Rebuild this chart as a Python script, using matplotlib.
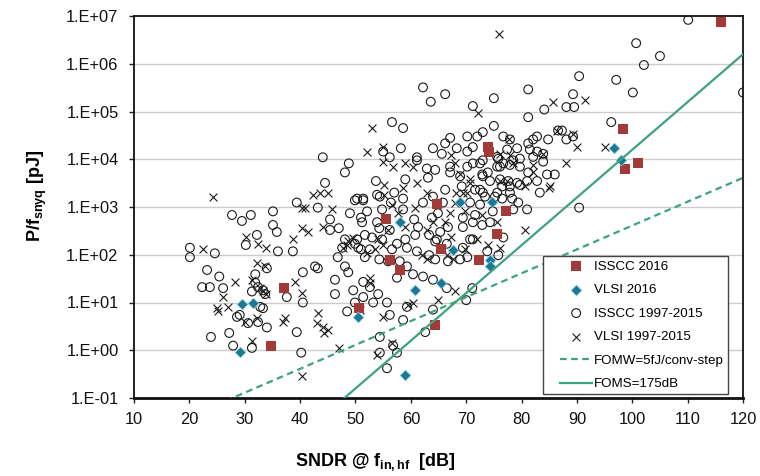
import numpy as np
import matplotlib
matplotlib.use("Agg")
import matplotlib.pyplot as plt
from matplotlib.ticker import FixedLocator, FuncFormatter, NullLocator
from matplotlib.legend_handler import HandlerLine2D, HandlerPathCollection

plt.rcParams['font.family'] = ['Liberation Sans', 'DejaVu Sans']
plt.rcParams['mathtext.fontset'] = 'custom'
plt.rcParams['mathtext.rm'] = 'Liberation Sans'
plt.rcParams['mathtext.bf'] = 'Liberation Sans:bold'
plt.rcParams['mathtext.it'] = 'Liberation Sans:italic'

# ---------------- data ----------------
isscc16_sndr = [116.0, 98.3, 101.0, 98.7, 73.9, 74.1, 77.2, 75.6, 72.3, 65.5,
                64.7, 55.5, 58.0, 56.2, 37.1, 50.6, 34.7, 64.4]
isscc16_pf = [7.4e6, 4.3e4, 8.3e3, 6.3e3, 1.8e4, 1.4e4, 8.3e2, 2.7e2, 77, 1.3e2,
              1.15e3, 5.6e2, 48, 78, 20, 7.6, 1.2, 3.4]

vlsi16_sndr = [96.7, 98.0, 68.9, 74.7, 67.6, 74.3, 74.3, 65.5, 60.8, 58.0,
               29.5, 31.5, 29.1, 59.0, 50.5]
vlsi16_pf = [1.7e4, 9.5e3, 1.25e3, 1.25e3, 1.25e2, 78, 58, 25, 18, 4.9e2,
             9.3, 10.0, 0.9, 0.3, 5.0]

isscc_old_sndr = [
    62.2, 63.6, 66.2, 56.6, 58.6, 44.1, 48.8, 48.1, 44.5, 53.7, 58.2, 64.0, 65.6, 66.2,
    62.9, 64.4, 63.1, 59.0, 56.2, 55.0, 61.1, 61.1, 66.2, 57.0, 54.4, 50.3, 51.4,
    110.1, 100.7, 105.0, 102.1, 90.4, 97.1, 100.1, 81.2, 75.0, 89.3, 88.1, 89.5, 84.1,
    81.2, 71.2, 120.0, 96.2, 73.0, 75.0, 72.0, 70.2, 67.1, 76.7, 79.2, 81.2, 82.8, 84.8,
    82.1, 86.6, 88.1, 86.0, 82.1, 83.9, 77.4, 75.8, 73.0, 71.2, 70.2, 68.3, 81.2, 82.8,
    79.7, 77.6, 76.1, 74.3, 72.9, 72.5, 75.6, 77.9, 67.1, 67.1, 68.9, 83.3, 71.2, 77.9,
    89.3, 81.5, 82.8, 83.9, 75.6, 78.5, 79.7, 76.1, 70.2, 87.3,
    39.4, 43.2, 49.9, 51.4, 53.9, 56.4, 58.6, 62.2, 64.9, 49.0, 52.1, 45.4, 51.0, 51.2,
    54.8, 58.6, 60.6, 61.3, 63.8, 63.3, 53.9, 54.3, 56.2, 47.0, 45.4, 38.7, 48.1, 47.6,
    50.3, 51.7, 53.0, 54.8, 57.5, 59.0, 60.8, 52.6, 51.7, 54.3, 58.0, 48.1, 51.0, 49.9,
    59.3, 61.1, 64.4, 63.3, 42.7, 56.6,
    72.5, 73.9, 75.6, 76.7, 77.9, 79.7, 84.6, 81.0, 79.2, 77.9, 76.5, 73.0, 71.6, 73.0,
    69.2, 64.0, 65.8, 70.7, 72.5, 73.4, 75.2, 76.5, 78.3, 79.4, 78.5, 81.0, 74.8, 71.6,
    69.4, 71.2, 72.9, 74.3, 76.7, 71.2, 69.4, 66.7, 65.3, 64.7, 66.5, 69.4, 70.7, 73.8,
    75.8, 68.9, 70.2, 64.4, 66.7, 90.4, 70.0, 71.1, 66.5,
    27.7, 29.5, 31.1, 35.1, 35.1, 32.2, 35.8, 20.1, 20.1, 30.2, 36.0, 40.5, 43.2, 34.0,
    31.9, 23.2, 25.4, 22.3, 26.1, 31.9, 32.4, 33.3, 33.7, 31.3, 37.6, 40.5, 33.3, 28.6,
    30.6, 32.4, 34.0, 39.4, 23.9, 27.2, 27.9, 31.3, 40.2, 46.3, 48.5, 54.4, 54.4, 56.8,
    57.5, 55.7, 62.6, 64.0, 46.3, 49.6, 51.4, 52.6, 54.1, 55.7, 56.2, 58.6, 59.3, 50.5,
    55.9, 57.5, 59.3, 60.4, 62.2, 64.0, 46.8, 48.7, 53.2, 51.4, 49.9, 24.6, 23.7, 29.1,
    32.8]
isscc_old_pf = [
    3.2e5, 1.6e5, 2.3e5, 6.0e4, 4.5e4, 1.1e4, 8.2e3, 5.3e3, 3.2e3, 3.5e3, 1.7e4, 1.7e4, 1.3e4, 2.15e4,
    6.4e3, 6.0e3, 4.1e3, 3.8e3, 1.1e4, 1.45e4, 1.1e4, 9.5e3, 2.3e3, 2.0e3, 1.65e3, 1.5e3, 1.5e3,
    8.3e6, 2.7e6, 1.45e6, 9.4e5, 5.5e5, 4.6e5, 2.5e5, 2.9e5, 1.9e5, 2.3e5, 1.24e5, 1.24e5, 1.1e5,
    7.6e4, 1.3e5, 2.5e5, 6.0e4, 3.7e4, 5.0e4, 3.0e4, 3.0e4, 2.8e4, 3.0e4, 1.7e4, 2.15e4, 3.0e4, 2.6e4,
    2.6e4, 4.0e4, 2.6e4, 4.8e3, 1.12e4, 8.9e3, 1.6e4, 1.03e4, 9.5e3, 8.2e3, 1.45e4, 1.7e4, 5.3e3, 3.5e3,
    2.9e3, 3.5e3, 3.8e3, 3.5e3, 4.8e3, 2.3e3, 2.0e3, 2.0e3, 7.0e3, 5.3e3, 4.4e3, 2.0e3, 1.8e4, 2.6e4,
    3.0e4, 1.6e4, 1.45e4, 1.3e4, 1.12e4, 9.5e3, 1.03e4, 7.0e3, 7.0e3, 4.0e4,
    1.24e3, 9.7e2, 1.38e3, 1.38e3, 1.8e3, 1.24e3, 1.5e3, 1.24e3, 7.4e2, 7.4e2, 8.1e2, 5.5e2, 6.0e2, 4.8e2,
    8.9e2, 8.9e2, 5.5e2, 3.8e2, 6.0e2, 2.6e2, 4.8e2, 3.6e2, 3.3e2, 3.6e2, 3.3e2, 1.18e2, 2.1e2, 1.4e2,
    2.1e2, 2.6e2, 2.3e2, 2.1e2, 1.7e2, 2.1e2, 2.6e2, 1.3e2, 89, 80, 73, 57, 1.3e2, 1.7e2,
    1.4e2, 1.18e2, 1.9e2, 98, 57, 1.3e2,
    8.2e3, 5.3e3, 7.0e3, 8.2e3, 7.6e3, 7.0e3, 4.8e3, 3.5e3, 3.2e3, 2.7e3, 2.7e3, 4.4e3, 2.3e3, 2.0e3,
    2.7e3, 1.65e3, 1.24e3, 1.24e3, 1.12e3, 1.65e3, 1.65e3, 1.5e3, 1.5e3, 1.24e3, 8.9e2, 8.9e2, 8.1e2, 6.8e2,
    6.0e2, 4.8e2, 4.2e2, 4.8e2, 2.3e2, 2.1e2, 3.8e2, 3.8e2, 3.0e2, 2.1e2, 1.7e2, 1.4e2, 2.1e2, 1.18e2,
    98, 80, 89, 80, 73, 9.7e2, 11.2, 20, 20,
    6.8e2, 5.1e2, 6.8e2, 8.1e2, 4.2e2, 2.6e2, 3.0e2, 1.4e2, 89, 1.6e2, 1.18e2, 43, 52, 52,
    39, 48, 35, 21, 20, 26, 21, 18, 15, 17, 13, 10, 7.6, 5.0,
    3.7, 3.9, 3.0, 2.4, 1.9, 2.3, 1.25, 1.12, 0.89, 30, 6.5, 1.9, 0.89, 1.25,
    0.89, 0.42, 2.4, 7.1, 15, 18, 27, 21, 15, 10, 5.5, 4.3, 8.1, 1.4e2,
    73, 33, 57, 39, 35, 30, 89, 43, 10, 13, 10, 1.07e2, 21, 5.5,
    8.1]

vlsi_old_sndr = [
    53.0, 52.1, 55.0, 55.0, 59.0, 60.4, 61.1, 62.9, 42.3, 43.6, 45.0, 24.3, 55.2, 58.6,
    55.2, 75.9, 72.1, 85.7, 91.5, 86.4, 89.3, 90.0, 95.1, 88.0, 85.0, 77.9, 76.1, 78.5,
    83.9, 82.1, 67.3, 70.7, 68.2, 69.4, 77.7,
    40.3, 40.9, 45.8, 44.1, 40.3, 41.4, 38.7, 48.7, 52.1, 47.8, 56.6, 60.8, 57.7, 55.9,
    59.0, 62.9, 54.1, 62.0, 62.9, 56.8,
    68.0, 68.9, 70.7, 76.1, 77.4, 80.6, 82.1, 85.1, 70.2, 68.0, 69.8, 67.1, 66.2, 64.0,
    72.9, 75.6, 80.6, 73.9, 76.1, 72.0, 69.8, 67.6, 67.3, 65.6, 66.5, 68.0,
    22.5, 30.2, 32.4, 33.8, 33.7, 28.2, 32.2, 31.3, 32.8, 33.3, 33.8, 26.1, 25.0, 25.2,
    27.0, 30.1, 32.2, 37.3, 36.9, 43.2, 43.1, 44.1, 45.0, 44.3, 40.3, 39.1, 31.3, 40.3,
    47.0, 53.9, 56.6, 55.0, 52.6, 52.6, 60.4, 59.5, 49.6, 48.5, 53.5, 55.0, 64.9, 50.8]
vlsi_old_pf = [
    4.5e4, 1.45e4, 1.8e4, 8.9e3, 8.2e3, 7.0e3, 3.2e3, 2.0e3, 1.8e3, 2.0e3, 2.0e3, 1.65e3, 2.9e3, 2.5e3,
    1.8e3, 4.2e6, 9.5e4, 1.6e5, 1.7e5, 4.0e4, 3.3e4, 1.8e4, 1.8e4, 8.2e3, 2.5e3, 1.2e4, 1.3e4, 8.2e3,
    1.3e4, 7.6e3, 1.2e4, 3.2e3, 2.0e3, 2.0e3, 2.6e4,
    9.7e2, 9.7e2, 8.9e2, 3.8e2, 3.6e2, 3.0e2, 2.1e2, 1.9e2, 1.07e2, 1.4e2, 1.12e3, 9.7e2, 7.4e2, 3.3e2,
    3.8e2, 3.3e2, 2.1e2, 98, 80, 7.0e3,
    8.2e3, 4.8e3, 3.8e3, 3.5e3, 3.5e3, 2.7e3, 5.3e3, 2.7e3, 2.0e3, 1.24e3, 8.1e2, 7.4e2, 4.8e2, 4.8e2,
    6.8e2, 4.8e2, 3.3e2, 1.6e2, 1.4e2, 2.1e2, 1.3e2, 80, 2.3e2, 1.3e2, 98, 17,
    1.3e2, 2.3e2, 1.7e2, 1.4e2, 57, 27, 67, 30, 20, 17, 15, 13, 7.6, 6.5,
    8.1, 3.9, 4.7, 4.7, 3.9, 6.0, 3.7, 3.0, 2.7, 2.3, 16, 27, 1.6, 0.29,
    1.12, 0.8, 1.4, 5.0, 33, 26, 10, 8.9, 2.2e2, 1.6e2, 1.3e2, 1.6e2, 11.2, 7.1]

# figure-of-merit reference lines
FOMW_J = 5e-15        # 5 fJ/conv-step
FOMS_DB = 175.0       # 175 dB
sndr_line = np.linspace(10, 120, 200)
fomw_pj = FOMW_J * 2 ** ((sndr_line - 1.76) / 6.02) * 1e12
foms_pj = 10 ** ((sndr_line - FOMS_DB) / 10) / 2 * 1e12

x_ticks = list(range(10, 121, 10))
y_ticks = [10.0 ** e for e in range(-1, 8)]


# legend handlers that leave extra room on the left of each handle
class _Shift:
    extra = 1.0

    def create_artists(self, legend, orig_handle, xdescent, ydescent, width,
                       height, fontsize, trans):
        ex = self.extra * fontsize
        return super().create_artists(legend, orig_handle, xdescent - ex, ydescent,
                                      width - ex, height, fontsize, trans)


class ShiftLine(_Shift, HandlerLine2D):
    pass


class ShiftScatter(_Shift, HandlerPathCollection):
    pass


# ---------------- plot ----------------
fig = plt.figure(figsize=(7.6, 4.76), dpi=100)
ax = fig.add_axes([134 / 760, 1 - 398 / 476, 609 / 760, 382 / 476])
ax.set_yscale('log')
ax.set_xlim(10, 120)
ax.set_ylim(1e-1, 1e7)

for yv in y_ticks[1:-1]:
    ax.axhline(yv, color='#cccccc', lw=1.0, zorder=0)

sc_old_i = ax.scatter(isscc_old_sndr, isscc_old_pf, marker='o', s=40, facecolors='none',
                      edgecolors='#1a1a1a', linewidths=0.8, zorder=2)
sc_old_v = ax.scatter(vlsi_old_sndr, vlsi_old_pf, marker='x', s=32, c='#1a1a1a',
                      linewidths=0.8, zorder=2)
sc_i16 = ax.scatter(isscc16_sndr, isscc16_pf, marker='s', s=50, c='#a23b37',
                    linewidths=0, zorder=3)
sc_v16 = ax.scatter(vlsi16_sndr, vlsi16_pf, marker='D', s=30, c='#1c7895',
                    edgecolors='#8fd3e0', linewidths=0.5, zorder=3)
l1, = ax.plot(sndr_line, fomw_pj, ls=(0, (3, 2)), color='#3ea37a', lw=1.6, zorder=4)
l2, = ax.plot(sndr_line, foms_pj, ls='-', color='#3ea37a', lw=1.6, zorder=4)

ax.xaxis.set_major_locator(FixedLocator(x_ticks))
ax.yaxis.set_major_locator(FixedLocator(y_ticks))
ax.yaxis.set_minor_locator(NullLocator())
ax.yaxis.set_major_formatter(FuncFormatter(lambda v, p: "1.E%+03d" % int(round(np.log10(v)))))
ax.tick_params(axis='both', direction='out', length=3.6, width=1, colors='#222222',
               labelsize=11.8, labelcolor='#111111')
ax.tick_params(axis='x', pad=6.5)
ax.tick_params(axis='y', pad=7.5)

for s in ax.spines.values():
    s.set_linewidth(1.3)
    s.set_color('#111111')
ax.spines['bottom'].set_linewidth(2.0)

ax.set_xlabel(r"SNDR @ f$_{\bf in,hf}$  [dB]", fontsize=13, fontweight='bold')
ax.set_ylabel(r"P/f$_{\bf snyq}$ [pJ]", fontsize=13, fontweight='bold')
ax.xaxis.set_label_coords(0.397, -0.14)
ax.yaxis.set_label_coords(-0.14, 0.53)

leg_handles = [sc_i16, sc_v16, sc_old_i, sc_old_v, l1, l2]
leg_labels = ['ISSCC 2016', 'VLSI 2016', 'ISSCC 1997-2015', 'VLSI 1997-2015',
              'FOMW=5fJ/conv-step', 'FOMS=175dB']
leg = ax.legend(leg_handles, leg_labels, loc='lower right',
                bbox_to_anchor=((728 - 134) / 609, 0.01), fontsize=9.6,
                frameon=True, fancybox=False, framealpha=1, edgecolor='#444444',
                handlelength=3.4, handletextpad=0.15, labelspacing=0.84,
                borderpad=0.3, borderaxespad=0.0, scatterpoints=1,
                handler_map={type(l1): ShiftLine(), type(sc_i16): ShiftScatter()})
leg.get_frame().set_linewidth(1.0)
leg.set_zorder(10)

fig.savefig('out.png', dpi=100, facecolor='white')
